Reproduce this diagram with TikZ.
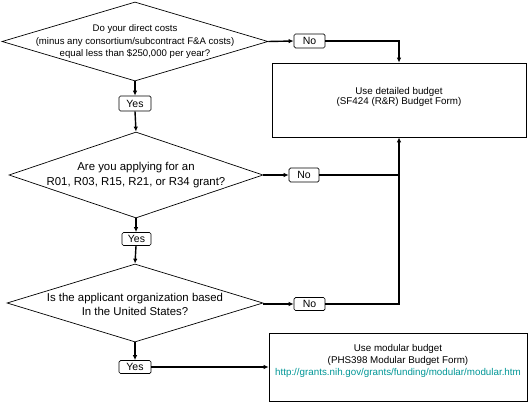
\documentclass[tikz,border=0pt]{standalone}
\usepackage{fontspec}
\setmainfont{Liberation Sans}
\usetikzlibrary{shapes.geometric,arrows.meta}
\definecolor{urlteal}{RGB}{0,150,150}
\begin{document}
\begin{tikzpicture}[x=1pt,y=-1pt,
  dia/.style={draw,shape=diamond,inner sep=0pt,line width=0.7pt},
  tag/.style={draw,rounded corners=1.5pt,inner sep=0pt,line width=0.7pt,font=\fontsize{10.5}{12}\selectfont},
  outbox/.style={draw,inner sep=0pt,line width=0.7pt},
  conn/.style={line width=1.4pt},
  arr/.style={conn,-{Latex[length=5pt,width=4.5pt]}}]
\useasboundingbox (0,0) rectangle (529,403);

% decisions
\node[dia,minimum width=266pt,minimum height=79pt] (d1) at (135,41.5) {};
\node[align=center,font=\fontsize{9.6}{12.5}\selectfont] (t1) at (135,42) {Do your direct costs\\(minus any consortium/subcontract F\&A costs)\\equal less than \$250,000 per year?};

\node[dia,minimum width=254pt,minimum height=86pt] (d2) at (136,175) {};
\node[align=center,font=\fontsize{11.4}{14.5}\selectfont] (t2) at (136,175) {Are you applying for an\\R01, R03, R15, R21, or R34 grant?};

\node[dia,minimum width=256pt,minimum height=78pt] (d3) at (135,303) {};
\node[align=center,font=\fontsize{11.4}{14.5}\selectfont] (t3) at (135,304.5) {Is the applicant organization based\\In the United States?};

% yes / no labels
\node[tag,minimum width=32pt,minimum height=15pt] (y1) at (135,103.5) {Yes};
\node[tag,minimum width=29pt,minimum height=13pt] (y2) at (136.5,239) {Yes};
\node[tag,minimum width=32pt,minimum height=13pt] (y3) at (135,367) {Yes};
\node[tag,minimum width=31pt,minimum height=14pt] (n1) at (309.5,41) {No};
\node[tag,minimum width=30pt,minimum height=14pt] (n2) at (304,175) {No};
\node[tag,minimum width=31pt,minimum height=13pt] (n3) at (309.5,304) {No};

% outcome boxes
\node[outbox,minimum width=254pt,minimum height=74pt] (det) at (399,100) {};
\node[align=center,font=\fontsize{9.8}{10}\selectfont] (dett) at (399,96.5) {Use detailed budget\\(SF424 (R\&R) Budget Form)};

\node[outbox,minimum width=258pt,minimum height=68pt] (mod) at (398,367) {};
\node[align=center,font=\fontsize{9.8}{12.3}\selectfont] (modt) at (398,361) {Use modular budget\\(PHS398 Modular Budget Form)\\\textcolor{urlteal}{http://grants.nih.gov/grants/funding/modular/modular.htm}};

% connectors
\draw[arr] (d1.south) -- (y1.north);
\draw[arr] (y1.south) -- (d2.north);
\draw[arr] (d2.south) -- (y2.north -| d2.south);
\draw[arr] (y2.south -| d2.south) -- (d3.north);
\draw[arr] (d3.south) -- (y3.north);
\draw[arr] (y3.east) -- (mod.west |- y3.east);

\draw[arr] (d1.east) -- (n1.west);
\draw[arr] (n1.east) -| (det.north);
\draw[arr] (d2.east |- n2.west) -- (n2.west);
\draw[conn] (n2.east) -- (n2.east -| det.south);
\draw[arr] (d3.east |- n3.west) -- (n3.west);
\draw[arr] (n3.east) -| (det.south);
\end{tikzpicture}
\end{document}
